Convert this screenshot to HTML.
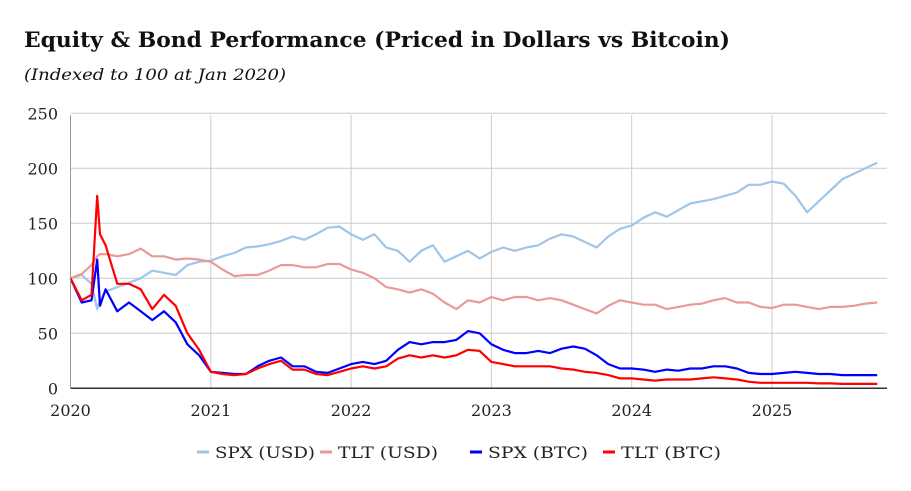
<!DOCTYPE html>
<html><head><meta charset="utf-8"><style>
body{margin:0;background:#fff;width:911px;height:487px;overflow:hidden;font-family:"DejaVu Serif",serif}
</style></head><body>
<svg width="911" height="487" font-family="DejaVu Serif, serif">
<text x="24" y="47" font-size="21" font-weight="bold" fill="#111" textLength="706" lengthAdjust="spacingAndGlyphs">Equity &amp; Bond Performance (Priced in Dollars vs Bitcoin)</text>
<text x="24" y="80" font-size="16" font-style="italic" fill="#111" textLength="262" lengthAdjust="spacingAndGlyphs">(Indexed to 100 at Jan 2020)</text>
<g id="grid"></g><g id="series"></g><g id="axes"></g>
<g id="legend" font-size="16" fill="#222"></g>
</svg>
<script>
const yTicks=[0,50,100,150,200,250];
const xTicks=[2020,2021,2022,2023,2024,2025];
const earlyDates=[2020.0,2020.08,2020.15,2020.19,2020.21,2020.25];
const spxUsd=[100,103,95,72,80,88, 92,96,100,107,105,103,112,115,
116,120,123,128,129,131,134,138,135,140,146,147,
140,135,140,128,125,115,125,130,115,120,125,118,
124,128,125,128,130,136,140,138,133,128,138,145,
148,155,160,156,162,168,170,172,175,178,185,185,
188,186,175,160,170,180,190,195,200,205];
const tltUsd=[100,104,112,120,122,122, 120,122,127,120,120,117,118,117,
115,108,102,103,103,107,112,112,110,110,113,113,
108,105,100,92,90,87,90,86,78,72,80,78,
83,80,83,83,80,82,80,76,72,68,75,80,
78,76,76,72,74,76,77,80,82,78,78,74,
73,76,76,74,72,74,74,75,77,78];
const spxBtc=[100,78,80,117,75,90, 70,78,70,62,70,60,40,30,
15,14,13,13,20,25,28,20,20,15,14,18,
22,24,22,25,35,42,40,42,42,44,52,50,
40,35,32,32,34,32,36,38,36,30,22,18,
18,17,15,17,16,18,18,20,20,18,14,13,
13,14,15,14,13,13,12,12,12,12];
const tltBtc=[100,80,85,175,140,130, 95,95,90,72,85,75,50,35,
15,13,12,13,18,22,25,17,17,13,12,15,
18,20,18,20,27,30,28,30,28,30,35,34,
24,22,20,20,20,20,18,17,15,14,12,9,
9,8,7,8,8,8,9,10,9,8,6,5,
5,5,5,5,4.5,4.5,4,4,4,4];
const dates=earlyDates.slice();
for(let i=0;dates.length<spxUsd.length;i++)dates.push(2020+(4+i)/12);
const X0=70.5,PX=140.3,Y0=388.3,PY=1.1;
const xs=t=>X0+(t-2020)*PX, ys=v=>Y0-v*PY;
const NS='http://www.w3.org/2000/svg';
function mk(tag,attrs,parent){const e=document.createElementNS(NS,tag);for(const k in attrs)e.setAttribute(k,attrs[k]);parent.appendChild(e);return e;}
const grid=document.getElementById('grid'),axes=document.getElementById('axes');
yTicks.forEach(v=>{
 if(v>0){const l=mk('line',{x1:X0,x2:887,y1:ys(v),y2:ys(v),stroke:'#cccccc','stroke-width':1},grid);
 
 }
 const t=mk('text',{x:58,y:ys(v)+6,'font-size':16,'text-anchor':'end',fill:'#222'},axes);t.textContent=v;
 
 
});
xTicks.forEach(y=>{
 if(y>2020){const l=mk('line',{x1:xs(y),x2:xs(y),y1:115,y2:Y0,stroke:'#cccccc','stroke-width':1},grid);
 
 }
 const t=mk('text',{x:xs(y),y:416,'font-size':16,'text-anchor':'middle',fill:'#222'},axes);t.textContent=y;
 
 
});
const ax=mk('line',{x1:X0,x2:887,y1:Y0,y2:Y0,stroke:'#333','stroke-width':1.5},axes);


const ay=mk('line',{x1:X0,x2:X0,y1:115,y2:Y0,stroke:'#999','stroke-width':1},axes);


const series=[['spx-usd',spxUsd,'#9fc5e8','SPX (USD)'],['tlt-usd',tltUsd,'#ea9999','TLT (USD)'],['spx-btc',spxBtc,'#0000ff','SPX (BTC)'],['tlt-btc',tltBtc,'#ff0000','TLT (BTC)']];
const sg=document.getElementById('series');
series.forEach(s=>{
 const d=s[1].map((v,i)=>(i?'L':'M')+xs(dates[i]).toFixed(1)+','+ys(v).toFixed(1)).join('');
 const p=mk('path',{d:d,fill:'none',stroke:s[2],'stroke-width':2.2,'stroke-linejoin':'round'},sg);
 
 
});
const lg=document.getElementById('legend');const lx=[197,320,470,603];
series.forEach((s,i)=>{
 const l=mk('line',{x1:lx[i],x2:lx[i]+12,y1:452,y2:452,stroke:s[2],'stroke-width':3},lg);
 
 
 const t=mk('text',{x:lx[i]+18,y:458,textLength:100,lengthAdjust:'spacingAndGlyphs'},lg);t.textContent=s[3];
 
 
});
</script>
</body></html>
